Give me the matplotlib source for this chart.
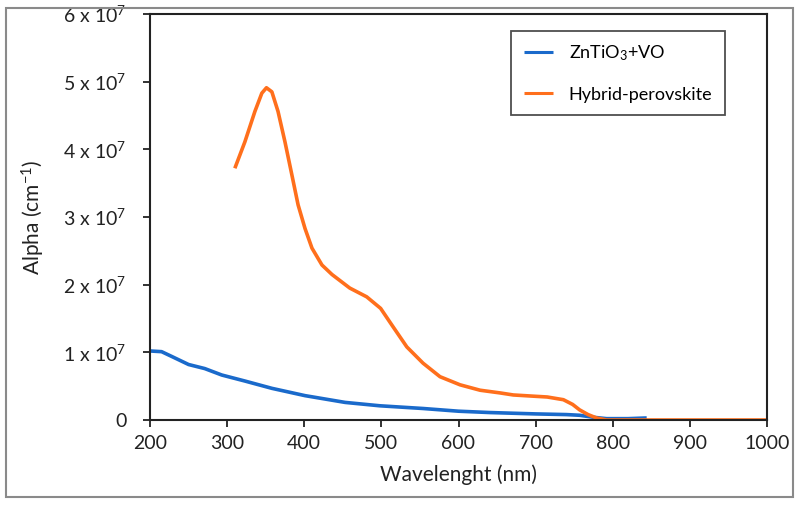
import matplotlib
matplotlib.use("Agg")
import matplotlib.pyplot as plt
from matplotlib.patches import Rectangle

plt.rcParams['font.family'] = ['Lato', 'DejaVu Sans']
plt.rcParams['mathtext.fontset'] = 'custom'
plt.rcParams['mathtext.rm'] = 'Lato'
plt.rcParams['mathtext.it'] = 'Lato:italic'

# ---- data ----
blue_x = [200, 215, 228, 250, 271, 293, 323, 358, 401, 453, 498, 554, 600, 641, 700, 740, 757, 775, 792, 820, 844]
blue_y = [1.02, 1.01, 0.94, 0.82, 0.76, 0.665, 0.576, 0.468, 0.36, 0.26, 0.21, 0.17, 0.13, 0.11, 0.09, 0.08, 0.07, 0.04, 0.02, 0.02, 0.03]
orange_x = [310, 323, 336, 345, 351, 358, 366, 375, 384, 392, 401, 410, 423, 436, 459, 481, 499, 515, 533, 554, 576, 602, 628, 654, 671, 700, 715, 736, 748, 757, 768, 779, 792, 800, 850, 900, 950, 1000]
orange_y = [3.72, 4.11, 4.56, 4.83, 4.91, 4.85, 4.56, 4.11, 3.62, 3.18, 2.83, 2.54, 2.29, 2.15, 1.95, 1.82, 1.65, 1.38, 1.08, 0.84, 0.64, 0.52, 0.44, 0.40, 0.37, 0.35, 0.34, 0.30, 0.23, 0.15, 0.08, 0.03, 0.0, 0.0, 0.0, 0.0, 0.0, 0.0]
scale = 1e7
x_ticks = [200, 300, 400, 500, 600, 700, 800, 900, 1000]
y_ticks = [0, 1, 2, 3, 4, 5, 6]
y_tick_labels = ['0'] + [r'%d x 10$^{7}$' % v for v in y_ticks[1:]]
series_labels = [r'ZnTiO$_{3}$+VO', 'Hybrid-perovskite']

fig = plt.figure(figsize=(7.99, 5.08), dpi=100)
ax = fig.add_axes([150/799, 1-420/508, (767-150)/799, (420-14)/508])

ax.plot(blue_x, [v*scale for v in blue_y], color='#1a6acb', lw=2.6, label=series_labels[0],
        solid_capstyle='butt', solid_joinstyle='round')
ax.plot(orange_x, [v*scale for v in orange_y], color='#ff6f1c', lw=2.6, label=series_labels[1],
        solid_capstyle='butt', solid_joinstyle='round')

ax.set_xlim(200, 1000)
ax.set_ylim(0, 6e7)
ax.set_xticks(x_ticks)
ax.set_xticklabels([str(v) for v in x_ticks])
ax.set_yticks([v*scale for v in y_ticks])
ax.set_yticklabels(y_tick_labels)
ax.tick_params(axis='both', direction='out', length=5, width=1.3, labelsize=14, colors='#222222')
ax.tick_params(axis='y', pad=12)
ax.tick_params(axis='x', pad=6)
for s in ax.spines.values():
    s.set_linewidth(1.5)
    s.set_color('#222222')

ax.set_xlabel('Wavelenght (nm)', fontsize=15, color='#222222', labelpad=9)
ax.set_ylabel(r'Alpha (cm$^{-1}$)', fontsize=15, color='#222222', labelpad=12)

leg = ax.legend(loc='upper left', bbox_to_anchor=((511-150)/617, (420-31)/406),
                fontsize=13, frameon=True, fancybox=False, edgecolor='#222222',
                handlelength=1.6, handletextpad=0.9, labelspacing=1.3,
                borderpad=0.7, borderaxespad=0)
leg.get_frame().set_linewidth(1.3)
for line in leg.get_lines():
    line.set_linewidth(2.2)

fig.patches.append(Rectangle((6/799, 1-497/508), (793-6)/799, (497-8)/508,
                             transform=fig.transFigure, fill=False,
                             edgecolor='#8a8a8a', lw=1.5))

fig.savefig('out.png', dpi=100)
